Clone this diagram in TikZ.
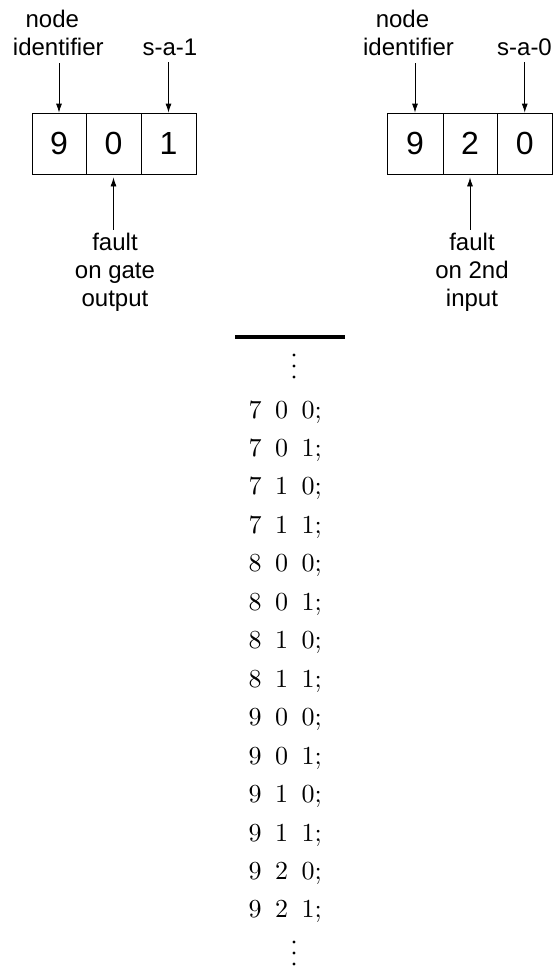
\documentclass[tikz,border=0pt]{standalone}
\usepackage{fontspec}
\newfontfamily\labfont{Liberation Sans}
\newfontfamily\rowfont{lmroman10-regular}[Extension=.otf]
\usetikzlibrary{arrows.meta}

\tikzset{
  lab/.style={font=\labfont\fontsize{24}{28}\selectfont, inner sep=0pt, align=center},
  cell/.style={draw, line width=0.8pt, minimum height=61pt, inner sep=0pt,
    font=\labfont\fontsize{32}{38}\selectfont},
  arr/.style={line width=0.8pt, -{Latex[length=9pt,width=6pt]}},
  row/.style={font=\rowfont\fontsize{26}{31}\selectfont, inner sep=0pt, anchor=base west},
  rule/.style={line width=3.5pt},
  dot/.style={fill=black}
}

\begin{document}
\begin{tikzpicture}[x=1pt, y=-1pt]
  \useasboundingbox (0,0) rectangle (553,970);

  % first fault record: 9 0 1
  \node[cell, minimum width=54pt] (c11) at (59,143.5) {9};
  \node[cell, minimum width=55pt] (c12) at (113.5,143.5) {0};
  \node[cell, minimum width=55pt] (c13) at (168.5,143.5) {1};
  \node[lab, anchor=north] (lid1) at (58.3,10.3) {node\hspace*{12pt}\\identifier};
  \node[lab, anchor=base] (lsa1) at (170,55) {s-a-1};
  \node[lab, anchor=north] (lf1) at (115,232.8) {fault\\on gate\\output};
  \draw[arr, shorten <=7pt] (lid1.south -| c11.north) -- (c11.north);
  \draw[arr, shorten <=7pt] (lsa1.south -| c13.north) -- (c13.north);
  \draw[arr, shorten <=3pt, shorten >=3pt] (lf1.north -| c12.south) -- (c12.south);

  % second fault record: 9 2 0
  \node[cell, minimum width=56pt] (c21) at (415,143.5) {9};
  \node[cell, minimum width=54pt] (c22) at (470,143.5) {2};
  \node[cell, minimum width=55.5pt] (c23) at (524.75,143.5) {0};
  \node[lab, anchor=north] (lid2) at (408.5,10.3) {node\hspace*{12pt}\\identifier};
  \node[lab, anchor=base] (lsa2) at (524.5,55) {s-a-0};
  \node[lab, anchor=north] (lf2) at (472,232.8) {fault\\on 2nd\\input};
  \draw[arr, shorten <=7pt] (lid2.south -| c21.north) -- (c21.north);
  \draw[arr, shorten <=7pt] (lsa2.south -| c23.north) -- (c23.north);
  \draw[arr, shorten <=3pt, shorten >=3pt] (lf2.north -| c22.south) -- (c22.south);

  % fault list
  \coordinate (ruleL) at (235,337);
  \coordinate (ruleR) at (345,337);
  \draw[rule] (ruleL) -- (ruleR);
  \foreach \y in {355,366,377} \fill[dot] (294,\y) circle (1.6pt);
  \foreach \a/\b/\c [count=\i from 0] in
    {7/0/0,7/0/1,7/1/0,7/1/1,8/0/0,8/0/1,8/1/0,8/1/1,9/0/0,9/0/1,9/1/0,9/1/1,9/2/0,9/2/1}
    \node[row] (row\i) at (248.5,{418+38.46*\i}) {\a\hspace{0.52em}\b\hspace{0.52em}\c;};
  \foreach \y in {942,953,964} \fill[dot] (294,\y) circle (1.6pt);
\end{tikzpicture}
\end{document}
